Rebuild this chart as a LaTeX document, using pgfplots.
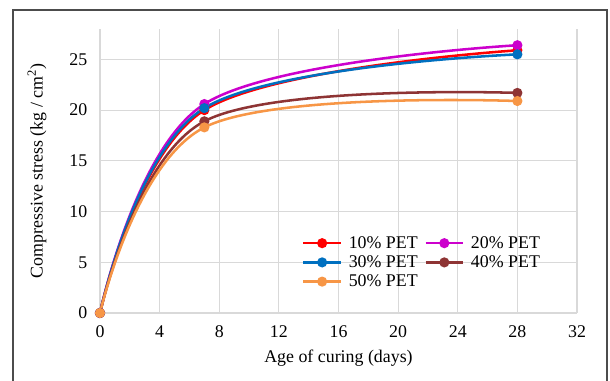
\documentclass[border=0pt]{standalone}
\usepackage{pgfplots}
\pgfplotsset{compat=1.18}
\usepackage{fontspec}
\setmainfont{Liberation Serif}
\definecolor{c10}{RGB}{255,0,0}
\definecolor{c20}{RGB}{204,0,204}
\definecolor{c30}{RGB}{0,112,192}
\definecolor{c40}{RGB}{142,52,52}
\definecolor{c50}{RGB}{247,150,70}
\definecolor{gridc}{RGB}{217,217,217}
\begin{document}
\begin{tikzpicture}
\begin{axis}[
  scale only axis,
  width=357.75pt, height=213pt,
  xmin=0, xmax=32, ymin=0, ymax=28,
  xtick={0,4,...,32}, ytick={0,5,...,25},
  grid=major,
  major grid style={gridc, line width=0.8pt},
  axis line style={draw=none},
  tick style={draw=none},
  font=\fontsize{13.4pt}{16pt}\selectfont,
  /pgf/number format/assume math mode=true,
  xticklabel style={yshift=-6pt},
  yticklabel style={xshift=-6pt},
  xlabel={Age of curing (days)},
  ylabel={Compressive stress (kg / cm\textsuperscript{2})},
  xlabel style={at={(axis description cs:0.5,-0.16)}, anchor=center},
  ylabel style={at={(axis description cs:-0.132,0.5)}, anchor=center},
  legend style={at={(axis description cs:0.415,0.29)}, anchor=north west, draw=none, fill=none,
    font=\fontsize{13.4pt}{16pt}\selectfont, row sep=0pt, column sep=3pt},
  legend columns=2,
  legend cell align=left,
  legend image code/.code={\draw[mark repeat=2,mark phase=2] plot coordinates {(0pt,0pt) (14pt,0pt) (28pt,0pt)};},
  every axis plot/.append style={smooth, tension=0.6, line width=1.9pt, mark=*, mark size=2.8pt},
]
\addplot[c10, mark options={fill=c10}] coordinates {(0,0) (7,20.0) (28,25.9)};
\addlegendentry{10\% PET}
\addplot[c20, mark options={fill=c20}] coordinates {(0,0) (7,20.6) (28,26.4)};
\addlegendentry{20\% PET}
\addplot[c30, mark options={fill=c30}] coordinates {(0,0) (7,20.2) (28,25.5)};
\addlegendentry{30\% PET}
\addplot[c40, mark options={fill=c40}] coordinates {(0,0) (7,18.9) (28,21.7)};
\addlegendentry{40\% PET}
\addplot[c50, mark options={fill=c50}] coordinates {(0,0) (7,18.3) (28,20.9)};
\addlegendentry{50\% PET}
\end{axis}
\draw[black!70, line width=0.9pt] (-65.25pt,-80pt) rectangle (380.25pt,227.25pt);
\pgfresetboundingbox
\useasboundingbox (-75pt,-51pt) rectangle (382.5pt,234.75pt);
\end{tikzpicture}
\end{document}
